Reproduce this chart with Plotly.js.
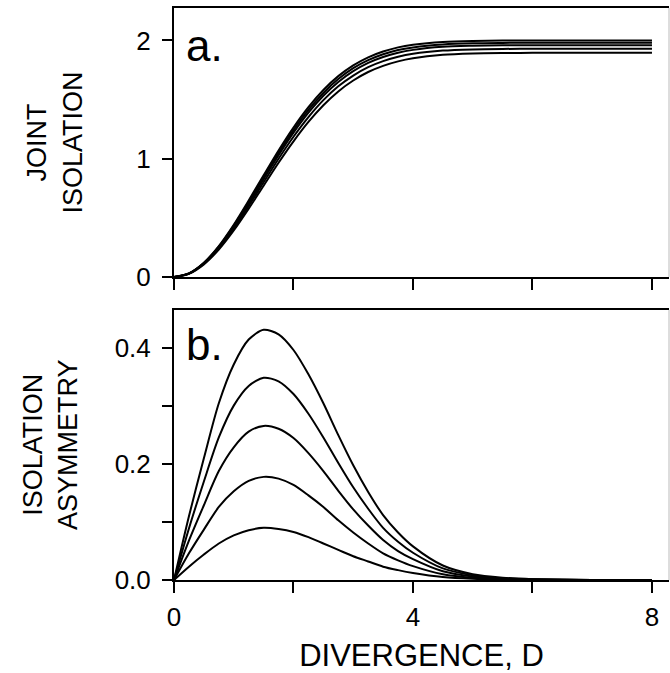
<!DOCTYPE html>
<html><head><meta charset="utf-8">
<script src="https://cdn.plot.ly/plotly-3.0.1.min.js"></script>
<style>html,body{margin:0;padding:0;background:#fff;}#chart{width:670px;height:673px;}</style>
</head><body><div id="chart"></div>
<script>
// Divergence values (x) shared by all curves
const divergence = [0,0.25,0.5,0.75,1,1.25,1.5,1.75,2,2.25,2.5,2.75,3,3.25,3.5,3.75,4,4.5,5,5.5,6,7,8];

// Panel a: joint isolation curves
const joint1 = [0,0.031,0.121,0.262,0.442,0.647,0.860,1.070,1.264,1.436,1.581,1.698,1.789,1.857,1.906,1.941,1.963,1.987,1.996,1.999,2.000,2.000,2.000];
const joint2 = [0,0.030,0.118,0.256,0.433,0.634,0.843,1.050,1.242,1.412,1.556,1.673,1.765,1.833,1.883,1.919,1.941,1.966,1.976,1.979,1.980,1.980,1.980];
const joint3 = [0,0.029,0.116,0.251,0.423,0.620,0.827,1.030,1.220,1.389,1.532,1.649,1.740,1.810,1.860,1.896,1.920,1.946,1.955,1.959,1.960,1.960,1.960];
const joint4 = [0,0.028,0.112,0.242,0.409,0.600,0.801,1.000,1.186,1.352,1.495,1.612,1.703,1.774,1.825,1.862,1.887,1.914,1.924,1.928,1.930,1.930,1.930];
const joint5 = [0,0.027,0.107,0.232,0.393,0.577,0.772,0.966,1.147,1.311,1.452,1.569,1.661,1.733,1.785,1.823,1.849,1.878,1.889,1.893,1.895,1.895,1.895];

// Panel b: isolation asymmetry curves
const asym1 = [0,0.023,0.044,0.063,0.077,0.086,0.090,0.088,0.083,0.074,0.063,0.052,0.041,0.032,0.023,0.017,0.012,0.005,0.002,0.0008,0.0003,0,0];
const asym2 = [0,0.046,0.087,0.126,0.153,0.171,0.178,0.175,0.164,0.146,0.126,0.103,0.082,0.063,0.046,0.034,0.024,0.010,0.004,0.0017,0.0006,0.0001,0];
const asym3 = [0,0.068,0.129,0.188,0.229,0.256,0.266,0.261,0.245,0.219,0.188,0.154,0.122,0.094,0.069,0.050,0.036,0.015,0.006,0.0025,0.001,0.0001,0];
const asym4 = [0,0.089,0.170,0.246,0.301,0.335,0.349,0.343,0.321,0.287,0.246,0.202,0.160,0.123,0.090,0.066,0.047,0.020,0.008,0.003,0.0012,0.0002,0];
const asym5 = [0,0.110,0.210,0.305,0.372,0.415,0.432,0.424,0.397,0.355,0.305,0.250,0.198,0.152,0.112,0.082,0.058,0.025,0.010,0.004,0.0015,0.0002,0];

// Tick labels
const xTickVals = [0,2,4,6,8];
const xTickText = ['0','','4','','8'];
const yTopTickVals = [0,1,2];
const yTopTickText = ['0','1','2'];
const yBotTickVals = [0,0.1,0.2,0.3,0.4];
const yBotTickText = ['0.0','','0.2','','0.4'];

const FONT = '"Liberation Sans", Arial, sans-serif';
const lineStyle = {color:'#000', width:2, shape:'spline', smoothing:0.8};

const traces = [];
[joint1, joint2, joint3, joint4, joint5].forEach(y => traces.push({
  x: divergence, y: y, xaxis:'x', yaxis:'y', mode:'lines', line: lineStyle, hoverinfo:'skip'
}));
[asym1, asym2, asym3, asym4, asym5].forEach(y => traces.push({
  x: divergence, y: y, xaxis:'x2', yaxis:'y2', mode:'lines', line: lineStyle, hoverinfo:'skip'
}));

const axCommon = {
  showline:true, linecolor:'#000', linewidth:2, showgrid:false, zeroline:false,
  ticks:'outside', tickcolor:'#000', tickwidth:2, fixedrange:true
};

const layout = {
  width:670, height:673,
  margin:{l:174, r:1, t:8, b:93},
  paper_bgcolor:'#fff', plot_bgcolor:'#fff',
  showlegend:false,
  font:{family:FONT, color:'#000', size:26},
  xaxis: Object.assign({}, axCommon, {
    domain:[0,1], anchor:'y', range:[0,8.285], tickvals:xTickVals, ticktext:xTickText,
    showticklabels:false, ticklen:11, mirror:true
  }),
  yaxis: Object.assign({}, axCommon, {
    domain:[0.5297,1], anchor:'x', range:[0,2.274], tickvals:yTopTickVals, ticktext:yTopTickText,
    ticklen:10, ticklabelstandoff:6, tickfont:{size:26}
  }),
  xaxis2: Object.assign({}, axCommon, {
    domain:[0,1], anchor:'y2', range:[0,8.285], tickvals:xTickVals, ticktext:xTickText,
    ticklen:11, ticklabelstandoff:2, tickfont:{size:26}, mirror:true,
    title:{text:'DIVERGENCE, D', font:{size:31}, standoff:26}
  }),
  yaxis2: Object.assign({}, axCommon, {
    domain:[0,0.472], anchor:'x2', range:[0,0.466], tickvals:yBotTickVals, ticktext:yBotTickText,
    ticklen:10, ticklabelstandoff:6, tickfont:{size:26}
  }),
  annotations:[
    {text:'a.', xref:'x domain', yref:'y domain', x:0.02, y:0.96, xanchor:'left', yanchor:'top', showarrow:false, font:{size:44}},
    {text:'b.', xref:'x2 domain', yref:'y2 domain', x:0.02, y:0.97, xanchor:'left', yanchor:'top', showarrow:false, font:{size:44}},
    {text:'JOINT<br>ISOLATION', xref:'paper', yref:'y domain', x:(55-174)/495, y:0.5, xanchor:'center', yanchor:'middle', textangle:-90, showarrow:false, font:{size:27}},
    {text:'ISOLATION<br>ASYMMETRY', xref:'paper', yref:'y2 domain', x:(50-174)/495, y:0.5, xanchor:'center', yanchor:'middle', textangle:-90, showarrow:false, font:{size:27}}
  ],
  shapes:[
    {type:'line', xref:'x domain', yref:'y domain', x0:1, x1:1, y0:0, y1:1, line:{color:'#bbb', width:1}},
    {type:'line', xref:'x2 domain', yref:'y2 domain', x0:1, x1:1, y0:0, y1:1, line:{color:'#bbb', width:1}}
  ]
};

Plotly.newPlot('chart', traces, layout, {displayModeBar:false, staticPlot:true});
</script>
</body></html>
